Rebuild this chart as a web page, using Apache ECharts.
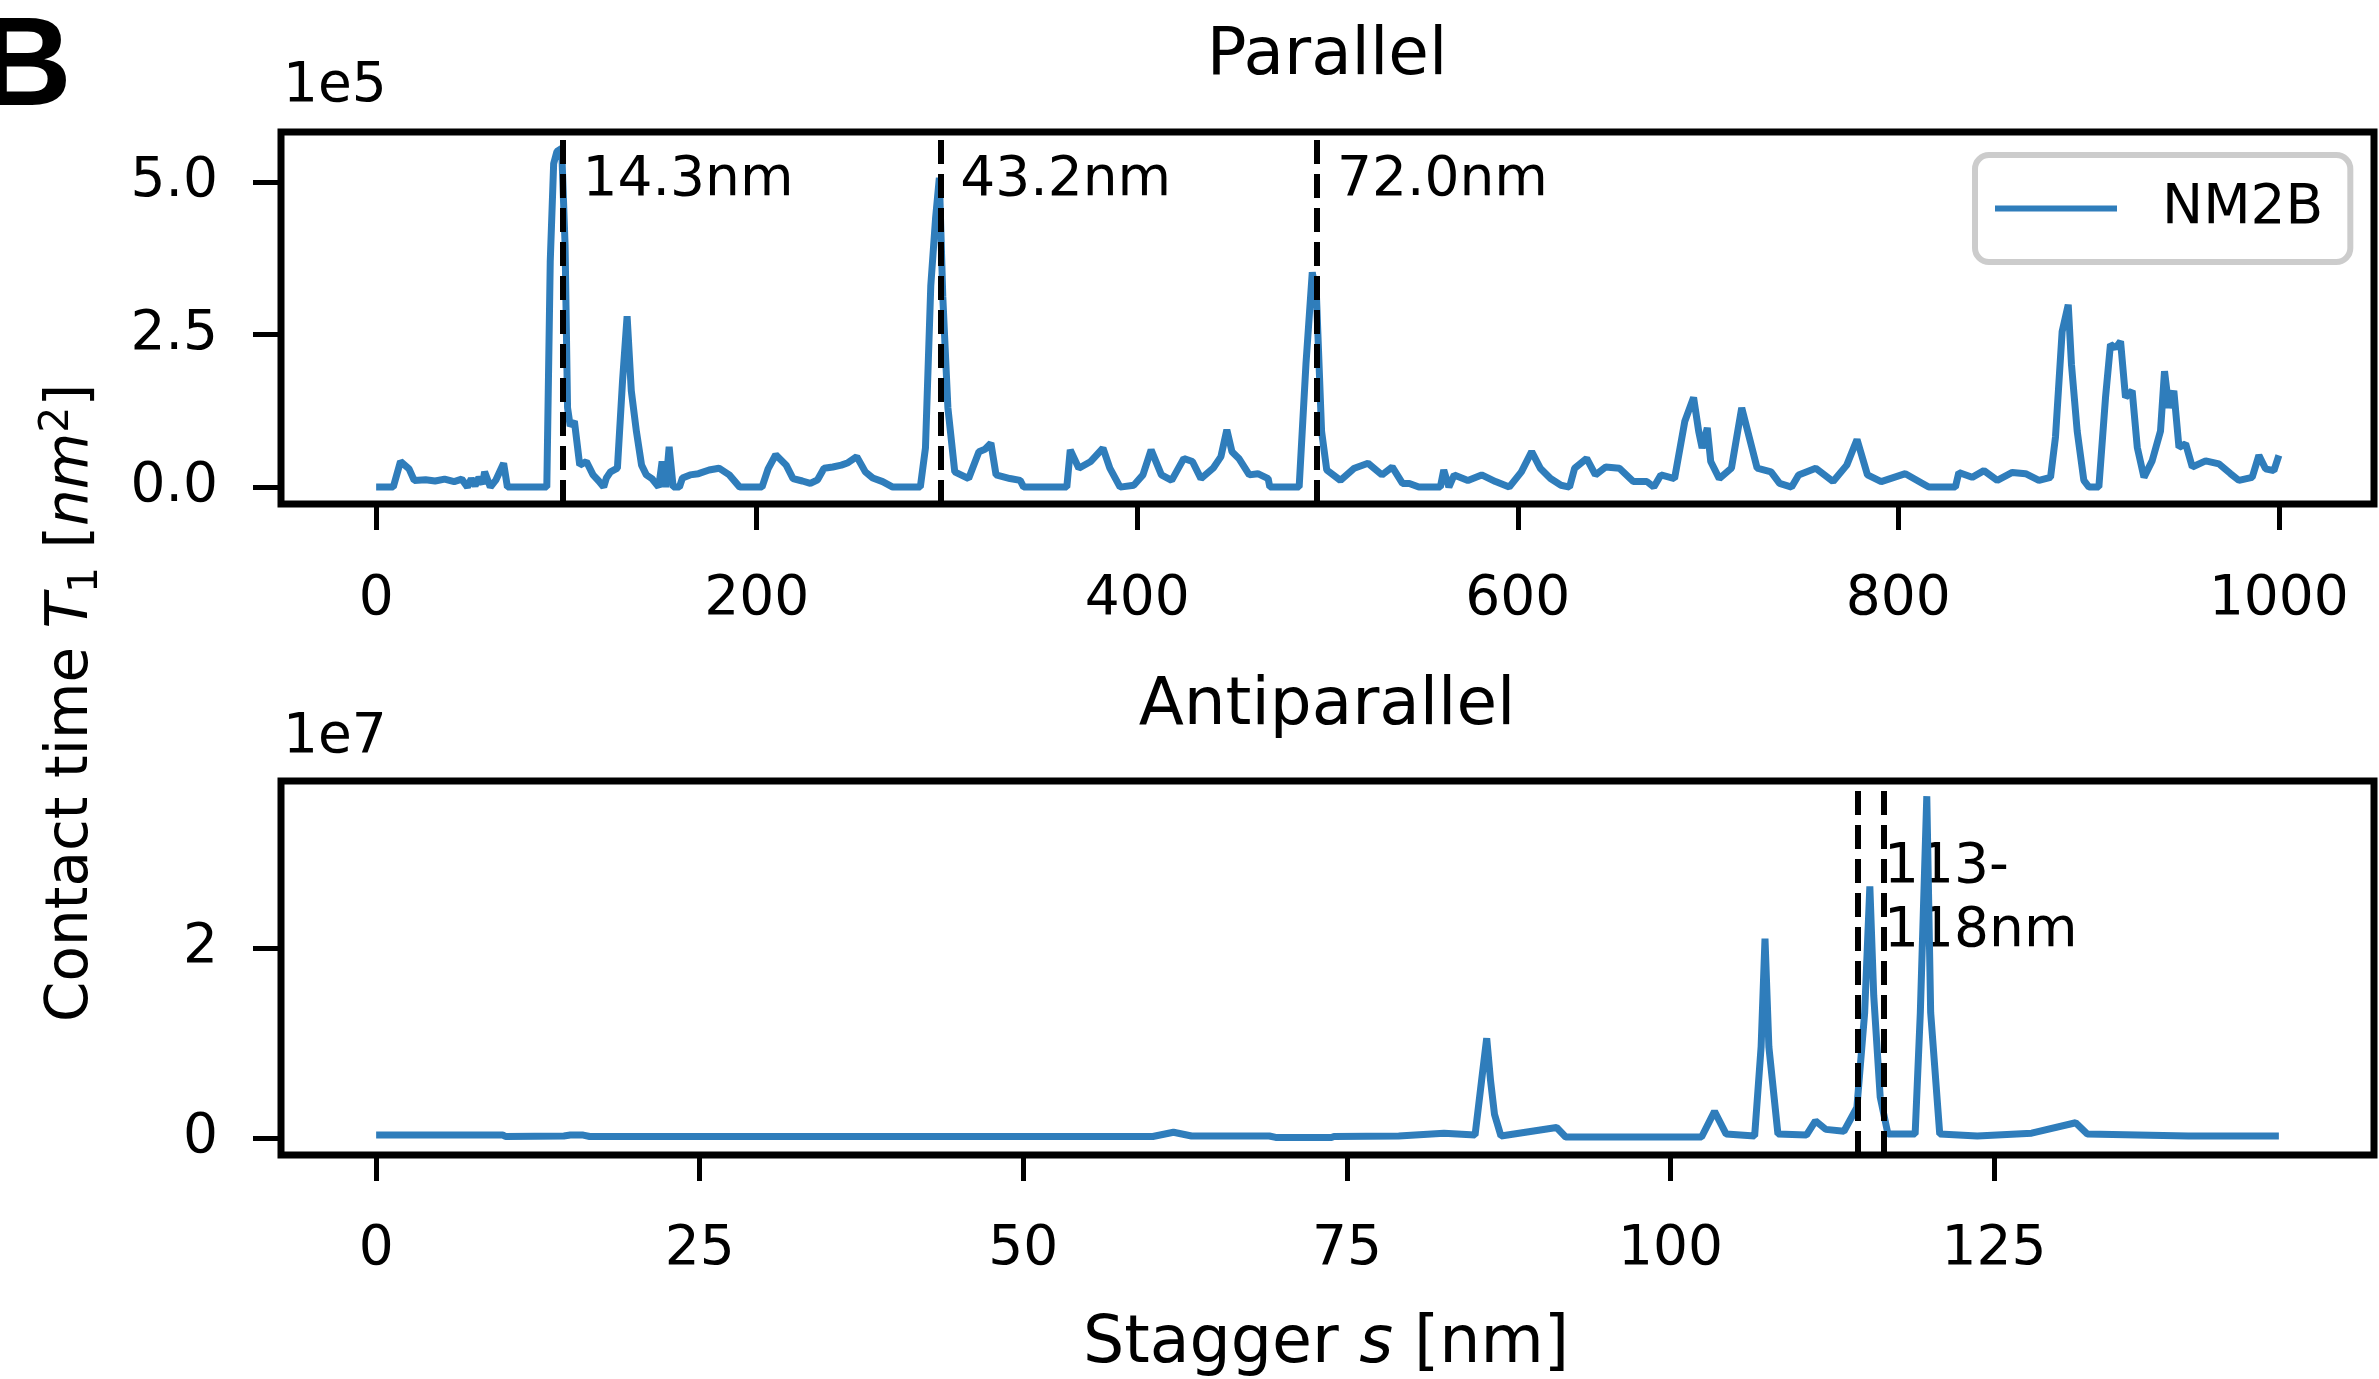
<!DOCTYPE html>
<html>
<head>
<meta charset="utf-8">
<title>Contact time vs stagger</title>
<script src="https://cdn.jsdelivr.net/npm/echarts@6/dist/echarts.min.js"></script>
<style>
  html, body { margin: 0; padding: 0; background: #fff; }
  #chart { width: 2379px; height: 1379px; }
</style>
</head>
<body>
<div id="chart"></div>
<script>
// Parallel panel: stagger (index) vs contact time, in units of 1e5 nm^2
const parStagger = [
  0, 9, 12.8, 17.3, 20, 26, 31, 36, 41, 45, 48, 50, 52, 54, 56, 57, 60, 63, 67, 69,
  89.7, 91.5, 93.3, 95, 97.5, 99.3, 100.6, 102, 104.2, 107, 110.5, 114, 117, 119.6, 121,
  123.2, 126.8, 129.5, 131.9, 134.1, 136.8, 139.5, 142, 144.9, 148.5, 150.3, 152.2, 154,
  156.1, 159.4, 161, 165, 169.4, 175, 180.2, 185.6, 191.1, 202.8, 206, 210, 215.5, 219.1,
  224, 228.2, 232, 235.4, 240, 244.5, 248, 252.6, 257.1, 261, 266.2, 271.5,
  286, 288.7, 291.5, 294, 296, 297.8, 300.5, 304.1, 311.4, 316.8, 320, 323.1, 325.8,
  333.1, 338.5, 340.3, 363, 364.8, 369.3, 375.6, 382, 385.6, 391, 398.2, 403, 407.3,
  412.7, 418.1, 424.5, 429, 433.5, 439.9, 444, 447.1, 449.8, 453.4, 458.9, 463.4, 468.8,
  469.7, 485.1, 488.7, 492, 494.2, 496.9, 499.6, 506.8, 514.1, 521.3, 528.6, 534, 539.4,
  543, 548, 559.3, 561.1, 563.8, 566.6, 573.8, 581, 588.3, 595.5, 601.9, 607.3, 611.8,
  617.2, 622.7, 627.2, 629.9, 636.2, 640.8, 646.2, 653.4, 660.7, 667.9, 671.5, 675.2,
  682.4, 687.8, 692.4, 695.1, 696.9, 699.6, 701.4, 705.9, 712.3, 717.7, 722.2, 725.8,
  733.1, 737.6, 743.9, 747.6, 756.6, 765.7, 772.9, 778.3, 783.8, 791, 803.7, 812.7, 816,
  830, 831.8, 838.8, 845, 852, 859.9, 866.9, 873.9, 880, 882.6, 886.1, 889.3, 891, 894,
  897.5, 900.2, 905.4, 908.9, 911.5, 914.2, 916.8, 919.4, 922.9, 925.6, 929.1, 933.4,
  937.8, 939.9, 942.2, 944.8, 947.5, 951, 954.5, 961.5, 968.5, 974.6, 979, 986, 989.5,
  993, 997.4, 1000
];
const parContact = [
  0, 0, 0.42, 0.30, 0.11, 0.12, 0.10, 0.13, 0.09, 0.13, 0.0, 0.14, 0.02, 0.16, 0.05, 0.25, 0, 0.12, 0.39, 0,
  0, 3.69, 5.3, 5.5, 5.55, 3.97, 1.3, 1.0, 1.08, 0.36, 0.42, 0.2, 0.1, 0, 0.15,
  0.25, 0.31, 1.74, 2.8, 1.58, 0.91, 0.36, 0.2, 0.14, 0, 0.42, 0, 0.66,
  0, 0, 0.15, 0.2, 0.22, 0.28, 0.31, 0.2, 0, 0, 0.3, 0.53, 0.36, 0.14,
  0.1, 0.06, 0.12, 0.31, 0.33, 0.36, 0.4, 0.5, 0.25, 0.15, 0.09, 0,
  0, 0.64, 3.3, 4.4, 5.07, 3.13, 1.3, 0.25, 0.14, 0.58, 0.62, 0.72, 0.2,
  0.14, 0.11, 0, 0, 0.61, 0.31, 0.42, 0.64, 0.31, 0, 0.03, 0.2, 0.61,
  0.2, 0.11, 0.47, 0.42, 0.14, 0.31, 0.5, 0.94, 0.58, 0.47, 0.2, 0.22, 0.14,
  0, 0, 2.03, 3.52, 3.13, 0.91, 0.28, 0.11, 0.31, 0.39, 0.2, 0.33, 0.06,
  0.06, 0, 0, 0.28, 0, 0.2, 0.11, 0.2, 0.09, 0, 0.25, 0.58, 0.31,
  0.14, 0.03, 0, 0.31, 0.47, 0.2, 0.33, 0.31, 0.09, 0.09, 0, 0.2,
  0.14, 1.08, 1.47, 0.91, 0.64, 0.97, 0.42, 0.14, 0.31, 1.30, 0.75, 0.31,
  0.25, 0.06, 0, 0.2, 0.31, 0.09, 0.36, 0.78, 0.2, 0.09, 0.22, 0.06, 0,
  0, 0.24, 0.16, 0.27, 0.11, 0.24, 0.22, 0.11, 0.16, 0.82, 2.55, 2.99, 2.01, 0.92,
  0.11, 0, 0, 1.47, 2.34, 2.28, 2.39, 1.47, 1.58, 0.65, 0.16, 0.43,
  0.92, 1.9, 1.3, 1.58, 0.65, 0.71, 0.33, 0.43, 0.38, 0.22, 0.11, 0.16, 0.52,
  0.3, 0.27, 0.52
];

// Antiparallel panel: stagger s [nm] vs contact time, in units of 1e7 nm^2
const antiStagger = [
  0, 9.8, 10, 14.5, 15, 16, 16.5, 60, 61.6, 63, 69, 69.5, 73.8, 74, 79, 82.5, 84.9,
  85.4, 85.8, 86.1, 86.4, 86.9, 91.2, 91.9, 102.4, 103.4, 104.3, 106.5, 107.0, 107.3,
  107.6, 108.3, 110.5, 111.2, 112, 113.4, 114.4, 115, 115.4, 115.7, 116.2, 116.8, 118.9,
  119.3, 119.8, 120.1, 120.8, 123.7, 127.9, 131.3, 132.2, 140, 147
];
const antiContact = [
  0.03, 0.03, 0.015, 0.02, 0.03, 0.03, 0.015, 0.015, 0.06, 0.02, 0.02, 0.005, 0.005, 0.015, 0.02, 0.05, 0.03,
  0.6, 1.05, 0.6, 0.25, 0.02, 0.11, 0.01, 0.01, 0.28, 0.04, 0.02, 0.96, 2.1,
  0.96, 0.04, 0.03, 0.18, 0.09, 0.07, 0.32, 1.32, 2.65, 1.5, 0.43, 0.04, 0.04,
  1.32, 3.6, 1.32, 0.04, 0.02, 0.05, 0.16, 0.04, 0.02, 0.02
];

const parPeaks = [98, 296.5, 494.5];
const parPeakLabels = ['14.3nm', '43.2nm', '72.0nm'];
const antiPeaks = [114.5, 116.5];
const antiPeakLabel = '113-\n118nm';

const parXTicks = [0, 200, 400, 600, 800, 1000];
const parYTicks = [0, 2.5, 5.0];
const antiXTicks = [0, 25, 50, 75, 100, 125];
const antiYTicks = [0, 2];

const FONT = 'DejaVu Sans';
const BLUE = '#2f7dbb';
const INK = '#000';

function zip(xs, ys) {
  return xs.map((x, i) => [x, ys[i]]);
}

function xAxisCfg(gridIndex, min, max, ticks, margin) {
  return {
    type: 'value', gridIndex, min, max,
    axisLine: { show: false, onZero: false },
    splitLine: { show: false },
    axisTick: { show: true, length: 26, customValues: ticks, lineStyle: { color: '#000', width: 5 } },
    axisLabel: { customValues: ticks, fontSize: 55, color: INK, fontFamily: FONT, margin, formatter: v => String(v) }
  };
}

function yAxisCfg(gridIndex, min, max, ticks, fmt) {
  return {
    type: 'value', gridIndex, min, max,
    axisLine: { show: false, onZero: false },
    splitLine: { show: false },
    axisTick: { show: true, length: 28, customValues: ticks, lineStyle: { color: '#000', width: 5 } },
    axisLabel: { customValues: ticks, fontSize: 55, color: INK, fontFamily: FONT, margin: 63, formatter: fmt }
  };
}

function dashLines(values) {
  return {
    silent: true,
    symbol: ['none', 'none'],
    label: { show: false },
    lineStyle: { color: '#000', width: 6, type: [24, 10] },
    data: values.map(v => ({ xAxis: v }))
  };
}

const labelStyle = { show: true, position: 'right', distance: 0, fontSize: 55, color: INK, opacity: 1, fontFamily: FONT };

const chart = echarts.init(document.getElementById('chart'));
chart.setOption({
  animation: false,
  backgroundColor: '#fff',
  grid: [
    { left: 281, top: 132, width: 2093, height: 372, show: true, borderColor: '#000', borderWidth: 7 },
    { left: 281, top: 781, width: 2093, height: 374, show: true, borderColor: '#000', borderWidth: 7 }
  ],
  xAxis: [
    xAxisCfg(0, -50, 1050, parXTicks, 68),
    xAxisCfg(1, -7.35, 154.35, antiXTicks, 67)
  ],
  yAxis: [
    yAxisCfg(0, -0.277, 5.82, parYTicks, v => v.toFixed(1)),
    yAxisCfg(1, -0.18, 3.76, antiYTicks, v => String(v))
  ],
  legend: {
    data: ['NM2B'],
    left: 1975, top: 155,
    icon: 'rect', itemWidth: 122, itemHeight: 6,
    padding: [26, 27, 26, 20],
    borderColor: '#cccccc', borderWidth: 6, borderRadius: 14,
    backgroundColor: '#fff',
    selectedMode: false,
    textStyle: { fontSize: 55, color: INK, fontFamily: FONT, padding: [0, 0, 0, 40] }
  },
  graphic: [
    { type: 'text', x: -20, y: 70, style: { text: 'B', fontSize: 127, fontWeight: 'bold', fontFamily: 'Liberation Sans', fill: '#000', align: 'left', verticalAlign: 'middle' } },
    { type: 'text', x: 1327, y: 57, style: { text: 'Parallel', fontSize: 66, fontFamily: FONT, fill: INK, align: 'center', verticalAlign: 'middle' } },
    { type: 'text', x: 1327, y: 707, style: { text: 'Antiparallel', fontSize: 66, fontFamily: FONT, fill: INK, align: 'center', verticalAlign: 'middle' } },
    { type: 'text', x: 283, y: 87, style: { text: '1e5', fontSize: 55, fontFamily: FONT, fill: INK, align: 'left', verticalAlign: 'middle' } },
    { type: 'text', x: 283, y: 738, style: { text: '1e7', fontSize: 55, fontFamily: FONT, fill: INK, align: 'left', verticalAlign: 'middle' } },
    {
      type: 'text', x: 1326, y: 1345,
      style: {
        text: '{a|Stagger }{i|s}{a| [nm]}',
        align: 'center', verticalAlign: 'middle', fill: INK,
        rich: {
          a: { fontSize: 65, fontFamily: FONT, fill: INK },
          i: { fontSize: 65, fontFamily: FONT, fontStyle: 'italic', fill: INK }
        }
      }
    },
    {
      type: 'text', x: 72, y: 703, rotation: Math.PI / 2,
      style: {
        text: '{a|Contact time }{i|T}{sub|1}{a| [}{i|nm}{sup|2}{a|]}',
        align: 'center', verticalAlign: 'middle', fill: INK,
        rich: {
          a: { fontSize: 58, fontFamily: FONT, fill: INK, lineHeight: 70 },
          i: { fontSize: 58, fontFamily: FONT, fontStyle: 'italic', fill: INK, lineHeight: 70 },
          sub: { fontSize: 41, fontFamily: FONT, fill: INK, lineHeight: 46, verticalAlign: 'bottom' },
          sup: { fontSize: 41, fontFamily: FONT, fill: INK, lineHeight: 36, verticalAlign: 'top' }
        }
      }
    }
  ],
  series: [
    {
      name: 'NM2B', type: 'line', xAxisIndex: 0, yAxisIndex: 0,
      data: zip(parStagger, parContact),
      symbol: 'none', showSymbol: false,
      lineStyle: { color: BLUE, width: 7 }, itemStyle: { color: BLUE },
      markLine: dashLines(parPeaks)
    },
    {
      name: 'NM2B', type: 'line', xAxisIndex: 1, yAxisIndex: 1,
      data: zip(antiStagger, antiContact),
      symbol: 'none', showSymbol: false,
      lineStyle: { color: BLUE, width: 7 }, itemStyle: { color: BLUE },
      markLine: dashLines(antiPeaks)
    },
    {
      name: 'peak labels', type: 'scatter', xAxisIndex: 0, yAxisIndex: 0,
      symbolSize: 0, itemStyle: { color: '#000', opacity: 1 }, silent: true,
      label: labelStyle,
      data: parPeaks.map((p, i) => ({ value: [p + 10.5, 5.02], label: { formatter: parPeakLabels[i] } }))
    },
    {
      name: 'range label', type: 'scatter', xAxisIndex: 1, yAxisIndex: 1,
      symbolSize: 0, itemStyle: { color: '#000', opacity: 1 }, silent: true,
      label: Object.assign({}, labelStyle, { lineHeight: 64, align: 'left' }),
      data: [{ value: [antiPeaks[1], 2.51], label: { formatter: antiPeakLabel } }]
    }
  ]
});
</script>
</body>
</html>
